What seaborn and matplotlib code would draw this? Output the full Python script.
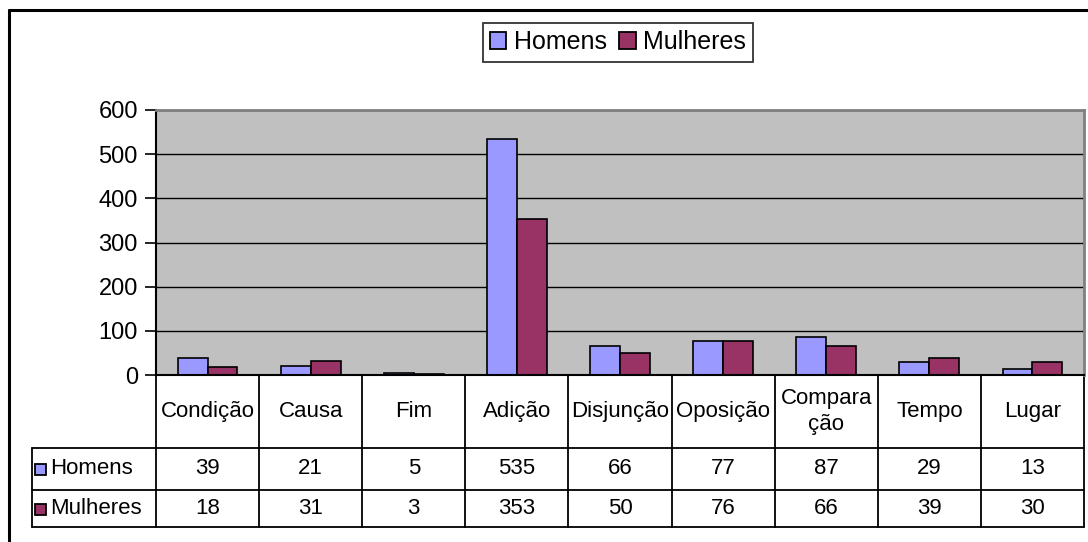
import matplotlib.pyplot as plt
import seaborn as sns
import pandas as pd
from matplotlib.lines import Line2D
from matplotlib.patches import Patch, Rectangle
from matplotlib.transforms import blended_transform_factory

sns.set_theme(style="white")
plt.rcParams['font.family'] = ['Liberation Sans', 'DejaVu Sans']
plt.rcParams['text.color'] = 'black'
plt.rcParams['ytick.labelcolor'] = 'black'

# data
categorias = ['Condição', 'Causa', 'Fim', 'Adição', 'Disjunção', 'Oposição', 'Comparação', 'Tempo', 'Lugar']
rotulos = ['Condição', 'Causa', 'Fim', 'Adição', 'Disjunção', 'Oposição', 'Compara\nção', 'Tempo', 'Lugar']
homens = [39, 21, 5, 535, 66, 77, 87, 29, 13]
mulheres = [18, 31, 3, 353, 50, 76, 66, 39, 30]
series = ['Homens', 'Mulheres']
cores = {'Homens': '#9999FF', 'Mulheres': '#993366'}

df = pd.DataFrame({
    'categoria': categorias * 2,
    'valor': homens + mulheres,
    'sexo': ['Homens'] * len(categorias) + ['Mulheres'] * len(categorias),
})

W, H = 1088, 542
fig = plt.figure(figsize=(W / 100, H / 100), dpi=100)

def fx(x):
    return x / W

def fy(y):
    return 1 - y / H

FS = 16

# plot area in pixels
left, right, top, bottom = 156, 1084, 110, 375
ax = fig.add_axes([fx(left), fy(bottom), fx(right - left), (bottom - top) / H])

sns.barplot(data=df, x='categoria', y='valor', hue='sexo', order=categorias,
            hue_order=series, palette=cores, width=0.58, gap=0,
            edgecolor='black', linewidth=1.2, saturation=1, legend=False, ax=ax)

ax.set_facecolor('#C0C0C0')
ax.set_xlim(-0.5, len(categorias) - 0.5)
ax.set_ylim(0, 600)
ax.set_yticks(range(0, 601, 100))
ax.yaxis.grid(True, color='black', linewidth=1)
ax.set_axisbelow(True)
ax.set_xlabel('')
ax.set_ylabel('')
ax.set_xticks([])
ax.tick_params(axis='y', direction='out', length=8, width=1.2, color='black',
               labelsize=FS + 1, pad=5, left=True, labelcolor='black')
for s in ['left', 'bottom']:
    ax.spines[s].set_color('black')
    ax.spines[s].set_linewidth(1.5)
for s in ['top', 'right']:
    ax.spines[s].set_color('#808080')
    ax.spines[s].set_linewidth(2)

# data table under the chart
tr = blended_transform_factory(ax.transData, ax.transAxes)
ah = bottom - top
y_hdr = -(448 - bottom) / ah
y_r1 = -(490 - bottom) / ah
y_r2 = -(527 - bottom) / ah
lw = 1.3
n = len(categorias)
for i in range(n + 1):
    ax.add_line(Line2D([i - 0.5, i - 0.5], [0, y_r2], transform=tr, color='black',
                       lw=lw, clip_on=False))
for yy in [y_hdr, y_r1, y_r2]:
    fig.add_artist(Line2D([fx(32), fx(right)], [fy(bottom + (-yy) * ah)] * 2,
                          color='black', lw=lw))
fig.add_artist(Line2D([fx(32), fx(32)], [fy(448), fy(527)], color='black', lw=lw))

for i, lab in enumerate(rotulos):
    ax.text(i, y_hdr / 2, lab, transform=tr, ha='center', va='center',
            fontsize=FS, linespacing=1.3)
    ax.text(i, (y_hdr + y_r1) / 2, str(homens[i]), transform=tr, ha='center',
            va='center', fontsize=FS)
    ax.text(i, (y_r1 + y_r2) / 2, str(mulheres[i]), transform=tr, ha='center',
            va='center', fontsize=FS)

for nome, yc in zip(series, [469, 509]):
    fig.add_artist(Rectangle((fx(35), fy(yc + 6)), 11 / W, 11 / H,
                             facecolor=cores[nome], edgecolor='black', lw=1.3))
    fig.text(fx(50), fy(yc), nome, ha='left', va='center', fontsize=FS)

# legend
handles = [Patch(facecolor=cores[s], edgecolor='black', lw=1.3, label=s) for s in series]
leg = fig.legend(handles=handles, loc='center', bbox_to_anchor=(fx(618), fy(42)),
                 ncol=2, fontsize=FS + 2, frameon=True, fancybox=False,
                 handlelength=0.65, handleheight=0.65, handletextpad=0.3,
                 columnspacing=0.5, borderpad=0.3)
leg.get_frame().set_edgecolor('black')
leg.get_frame().set_linewidth(1.3)

# outer chart border (top and left)
fig.add_artist(Line2D([fx(9), fx(W)], [fy(10), fy(10)], color='black', lw=2.2))
fig.add_artist(Line2D([fx(9), fx(9)], [fy(10), fy(H)], color='black', lw=2.2))

fig.savefig('out.png', dpi=100)
